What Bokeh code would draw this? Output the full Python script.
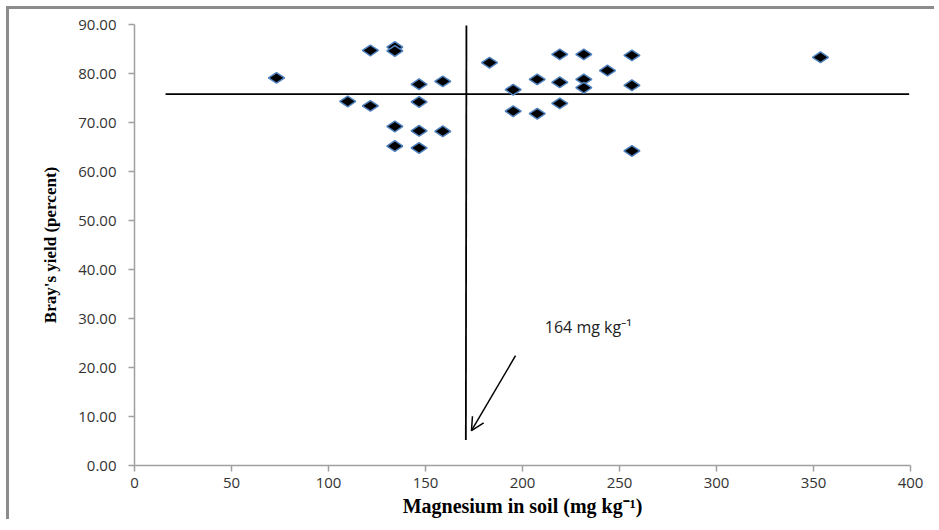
import math
from bokeh.plotting import figure
from bokeh.models import (FixedTicker, NumeralTickFormatter, Arrow, OpenHead,
                          Label, Range1d, ColumnDataSource)
from bokeh.embed import file_html
from bokeh.resources import INLINE

# ---- data ----
mg_soil = [73.2, 109.9, 121.6, 121.6, 134.2, 134.2, 134.2, 134.2, 146.7, 146.7,
           146.7, 146.7, 158.9, 158.9, 183.0, 195.2, 195.2, 207.6, 207.6, 219.2,
           219.2, 219.2, 231.6, 231.6, 231.6, 243.8, 256.4, 256.4, 256.4, 353.6]
bray_yield = [79.1, 74.3, 84.7, 73.4, 85.4, 84.6, 69.2, 65.2, 77.8, 74.2,
              68.3, 64.8, 78.4, 68.2, 82.2, 76.7, 72.3, 78.8, 71.8, 83.9,
              78.2, 73.9, 83.9, 78.8, 77.1, 80.6, 83.7, 77.6, 64.2, 83.3]

# Cate-Nelson partition lines as drawn
h_line_x = [16.0, 399.3]
h_line_y = [75.8, 75.8]
v_line_x = [171.1, 170.8]
v_line_y = [89.8, 5.2]

# arrow and its label
arrow_start = (196.4, 22.4)
arrow_end = (173.7, 7.1)
label_pos = (211.5, 28.2)
label_text = "164 mg kg\u207b\u00b9"

x_ticks = [0, 50, 100, 150, 200, 250, 300, 350, 400]
y_ticks = [0, 10, 20, 30, 40, 50, 60, 70, 80, 90]

p = figure(width=928, height=513, output_backend="svg", toolbar_location=None,
           x_range=Range1d(0, 400), y_range=Range1d(0, 90),
           min_border_left=125, min_border_right=27, min_border_top=15,
           min_border_bottom=57)
p.styles = {"border-left": "3px solid #8c8c8c", "border-top": "3px solid #8c8c8c",
            "margin-left": "6px", "margin-top": "6px"}
p.outline_line_color = None
p.xgrid.visible = False
p.ygrid.visible = False
p.background_fill_color = "white"
p.border_fill_color = "white"

# partition lines
p.line(h_line_x, h_line_y, line_color="black", line_width=1.8)
p.line(v_line_x, v_line_y, line_color="black", line_width=1.8)

# points
src = ColumnDataSource(dict(x=mg_soil, y=bray_yield))
p.scatter("x", "y", source=src, marker="diamond", size=16, angle=math.pi / 2,
          fill_color="black", line_color="#4f81bd", line_width=1.5)

# arrow + label
p.add_layout(Arrow(end=OpenHead(size=13, line_width=1.5, line_color="black"),
                   x_start=arrow_start[0], y_start=arrow_start[1],
                   x_end=arrow_end[0], y_end=arrow_end[1],
                   line_width=1.5, line_color="black"))
p.add_layout(Label(x=label_pos[0], y=label_pos[1], text=label_text,
                   text_font="Open Sans", text_font_size="16px",
                   text_color="#222222", text_baseline="middle", text_align="left"))

# axes
for ax in (p.xaxis[0], p.yaxis[0]):
    ax.axis_line_color = "#a0a0a0"
    ax.axis_line_width = 1.5
    ax.major_tick_line_color = "#a0a0a0"
    ax.major_tick_line_width = 1.5
    ax.major_tick_in = 0
    ax.major_tick_out = 6
    ax.minor_tick_line_color = None
    ax.major_label_text_font = "Open Sans"
    ax.major_label_text_font_size = "15px"
    ax.major_label_text_color = "#333333"
    ax.axis_label_text_font = "Liberation Serif"
    ax.axis_label_text_font_style = "bold"
    ax.axis_label_text_color = "black"

p.xaxis.ticker = FixedTicker(ticks=x_ticks)
p.yaxis.ticker = FixedTicker(ticks=y_ticks)
p.yaxis.formatter = NumeralTickFormatter(format="0.00")
p.xaxis.axis_label = "Magnesium in soil (mg kg\u207b\u00b9)"
p.yaxis.axis_label = "Bray's yield (percent)"
p.xaxis.axis_label_text_font_size = "20px"
p.yaxis.axis_label_text_font_size = "17px"
p.xaxis.major_label_standoff = 6
p.xaxis.axis_label_standoff = 4
p.yaxis.major_label_standoff = 12
p.yaxis.axis_label_standoff = 15

open("out.html", "w").write(file_html(p, INLINE))
